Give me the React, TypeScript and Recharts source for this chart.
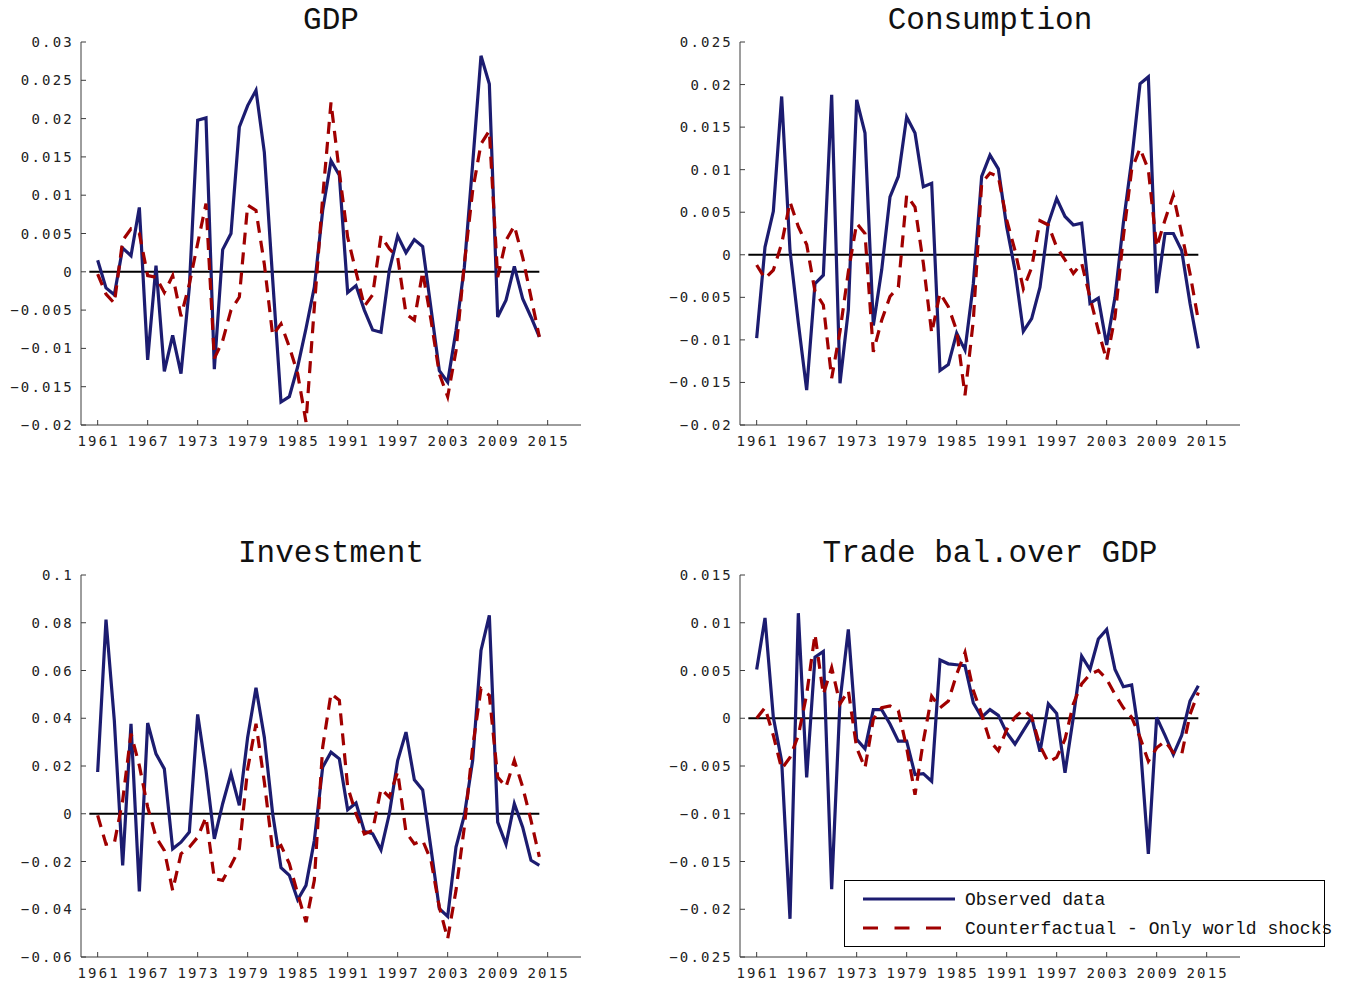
import React from 'react';
import { LineChart, Line, XAxis, YAxis, ReferenceLine, Legend } from 'recharts';

const years = [1961, 1962, 1963, 1964, 1965, 1966, 1967, 1968, 1969, 1970, 1971, 1972, 1973, 1974, 1975, 1976, 1977, 1978, 1979, 1980, 1981, 1982, 1983, 1984, 1985, 1986, 1987, 1988, 1989, 1990, 1991, 1992, 1993, 1994, 1995, 1996, 1997, 1998, 1999, 2000, 2001, 2002, 2003, 2004, 2005, 2006, 2007, 2008, 2009, 2010, 2011, 2012, 2013, 2014];

const yearTicks = [1961, 1967, 1973, 1979, 1985, 1991, 1997, 2003, 2009, 2015];

const gdpObserved = [0.0015, -0.0021, -0.003, 0.0031, 0.0021, 0.0084, -0.0115, 0.0008, -0.013, -0.0083, -0.0133, -0.002, 0.0198, 0.0201, -0.0127, 0.0029, 0.005, 0.0189, 0.0217, 0.0237, 0.0156, -0.001, -0.017, -0.0163, -0.0124, -0.0074, -0.002, 0.008, 0.0145, 0.0126, -0.0027, -0.0018, -0.005, -0.0076, -0.0079, 0.0002, 0.0047, 0.0025, 0.0042, 0.0033, -0.0048, -0.0129, -0.0144, -0.0077, 0.0006, 0.0141, 0.0282, 0.0245, -0.0059, -0.0037, 0.0007, -0.0035, -0.0059, -0.0085];
const gdpCounterfactual = [-0.0003, -0.0029, -0.0041, 0.0041, 0.0056, 0.005, -0.0005, -0.0007, -0.0027, -0.0005, -0.0058, -0.0016, 0.0037, 0.0089, -0.0113, -0.009, -0.005, -0.0033, 0.0087, 0.008, 0.001, -0.0083, -0.0068, -0.0098, -0.0133, -0.0196, -0.0046, 0.0097, 0.0221, 0.013, 0.0045, 0.0, -0.0045, -0.003, 0.0047, 0.003, 0.0019, -0.0055, -0.0063, 0.0, -0.0063, -0.0133, -0.0163, -0.0103, 0.001, 0.0106, 0.0167, 0.0184, -0.0007, 0.0041, 0.006, 0.0019, -0.0033, -0.0085];
const gdpTicks = [-0.02, -0.015, -0.01, -0.005, 0, 0.005, 0.01, 0.015, 0.02, 0.025, 0.03];

const consObserved = [-0.0098, 0.0009, 0.0051, 0.0186, 0.0005, -0.008, -0.0159, -0.0034, -0.0024, 0.0188, -0.0151, -0.0065, 0.0182, 0.0143, -0.0083, -0.0018, 0.0068, 0.0092, 0.0162, 0.0143, 0.008, 0.0084, -0.0136, -0.0129, -0.0092, -0.0112, -0.0034, 0.0092, 0.0117, 0.0101, 0.0033, -0.0018, -0.009, -0.0075, -0.0038, 0.0037, 0.0066, 0.0045, 0.0035, 0.0037, -0.0057, -0.0051, -0.0106, -0.005, 0.0037, 0.0111, 0.0201, 0.0209, -0.0045, 0.0025, 0.0025, 0.0005, -0.0057, -0.011];
const consCounterfactual = [-0.0012, -0.0028, -0.0018, 0.0013, 0.0062, 0.0033, 0.0012, -0.0043, -0.0059, -0.0145, -0.009, -0.002, 0.0037, 0.0025, -0.0114, -0.0077, -0.0049, -0.0038, 0.007, 0.0056, -0.001, -0.0092, -0.0045, -0.0061, -0.0089, -0.0165, -0.0077, 0.0084, 0.0096, 0.0092, 0.0041, 0.0005, -0.004, -0.0015, 0.004, 0.0035, 0.0009, -0.0006, -0.0022, -0.001, -0.005, -0.0089, -0.0124, -0.0073, 0.0021, 0.01, 0.0125, 0.01, 0.0009, 0.0041, 0.007, 0.0025, -0.0022, -0.0077];
const consTicks = [-0.02, -0.015, -0.01, -0.005, 0, 0.005, 0.01, 0.015, 0.02, 0.025];

const invObserved = [0.0175, 0.0813, 0.039, -0.0216, 0.0377, -0.0325, 0.038, 0.0251, 0.0188, -0.0147, -0.0119, -0.0077, 0.0416, 0.0181, -0.0105, 0.0042, 0.0168, 0.0035, 0.0321, 0.0528, 0.0321, 0.0, -0.0226, -0.0258, -0.036, -0.03, -0.0112, 0.0195, 0.0258, 0.023, 0.0017, 0.0045, -0.0073, -0.0084, -0.0151, 0.0, 0.0223, 0.0342, 0.0142, 0.01, -0.0147, -0.0398, -0.043, -0.014, -0.0007, 0.0223, 0.0684, 0.0831, -0.0035, -0.0128, 0.0042, -0.0056, -0.0195, -0.0216];
const invCounterfactual = [-0.0007, -0.0128, -0.0123, 0.0056, 0.0335, 0.0202, 0.0028, -0.0098, -0.0154, -0.0321, -0.0168, -0.014, -0.0098, -0.0014, -0.0272, -0.0279, -0.0216, -0.0147, 0.0188, 0.0377, 0.0133, -0.0154, -0.0133, -0.0209, -0.0335, -0.0454, -0.0279, 0.0279, 0.0503, 0.0475, 0.0112, 0.0, -0.0084, -0.007, 0.0105, 0.007, 0.0175, -0.0077, -0.0126, -0.0112, -0.0195, -0.0391, -0.0524, -0.0321, -0.0056, 0.0279, 0.0524, 0.0496, 0.0154, 0.0112, 0.0223, 0.0112, -0.0028, -0.0181];
const invTicks = [-0.06, -0.04, -0.02, 0, 0.02, 0.04, 0.06, 0.08, 0.1];

const tradeObserved = [0.0051, 0.0105, 0.0001, -0.0045, -0.021, 0.011, -0.0062, 0.0064, 0.007, -0.0179, 0.0018, 0.0093, -0.0022, -0.0032, 0.0009, 0.0009, -0.0006, -0.0024, -0.0024, -0.0059, -0.0058, -0.0066, 0.0061, 0.0057, 0.0056, 0.0055, 0.0016, 0.0001, 0.0009, 0.0003, -0.0015, -0.0027, -0.0013, 0.0001, -0.0035, 0.0015, 0.0005, -0.0057, 0.0001, 0.0065, 0.0051, 0.0083, 0.0093, 0.0051, 0.0033, 0.0035, -0.0024, -0.0142, 0.0001, -0.0018, -0.0038, -0.0018, 0.0018, 0.0034];
const tradeCounterfactual = [0.0, 0.0011, -0.0018, -0.0053, -0.0041, -0.0018, 0.0025, 0.0088, 0.0025, 0.0053, 0.0015, 0.0029, -0.0031, -0.0052, -0.0001, 0.0011, 0.0013, 0.0008, -0.0031, -0.008, -0.0024, 0.0023, 0.0011, 0.0018, 0.0046, 0.0069, 0.0029, 0.0004, -0.0024, -0.0034, -0.0012, 0.0001, 0.0009, 0.0001, -0.0029, -0.0046, -0.0041, -0.0022, 0.0015, 0.0036, 0.0046, 0.005, 0.0041, 0.0025, 0.0011, 0.0001, -0.002, -0.0045, -0.0031, -0.0024, -0.0036, -0.0038, 0.0004, 0.0027];
const tradeTicks = [-0.025, -0.02, -0.015, -0.01, -0.005, 0, 0.005, 0.01, 0.015];

const seriesNames = ['Observed data', 'Counterfactual - Only world shocks'];

const BLUE = '#1c1c70';
const RED = '#a00000';
const AXIS = '#3c3c3c';
const TICK_FONT = "'DejaVu Sans Mono', monospace";
const TITLE_FONT = "'Liberation Mono', 'Courier New', monospace";

function fmt(v: number): string {
  const s = String(Number(v.toFixed(4)));
  return s === '-0' ? '0' : s.replace('-', '\u2212');
}

const YTick = (props: any) => {
  const { x, y, payload } = props;
  return (
    <g>
      <line x1={x} x2={x + 5} y1={y} y2={y} stroke={AXIS} strokeWidth={1} />
      <text x={x - 7} y={y + 5} textAnchor="end" fontFamily={TICK_FONT} fontSize={14} letterSpacing={2.2} fill="#222">
        {fmt(payload.value)}
      </text>
    </g>
  );
};

const XTick = (props: any) => {
  const { x, y, payload } = props;
  return (
    <g>
      <line x1={x} x2={x} y1={y} y2={y - 5} stroke={AXIS} strokeWidth={1} />
      <text x={x + 1} y={y + 21} textAnchor="middle" fontFamily={TICK_FONT} fontSize={14} letterSpacing={2.2} fill="#222">
        {payload.value}
      </text>
    </g>
  );
};

const renderLegend = (props: any) => {
  const { payload } = props;
  const list: any[] = payload || [];
  const items = seriesNames
    .map((nm) => list.find((e: any) => e.value === nm))
    .filter((e: any) => !!e);
  return (
    <div style={{ width: 481, height: 67, border: '1.5px solid #000', background: '#fff', boxSizing: 'border-box', position: 'relative' }}>
      <svg width={481} height={67} style={{ position: 'absolute', left: -1.5, top: -1.5, overflow: 'visible' }}>
        {items.map((e: any, i: number) => {
          const y = 19 + i * 29;
          const dashed = e.value === seriesNames[1];
          return (
            <g key={i}>
              <line x1={19} x2={dashed ? 97 : 111} y1={y} y2={y} stroke={e.color} strokeWidth={3} strokeDasharray={dashed ? '15 16.5' : undefined} />
              <text x={121} y={y + 6} fontFamily={TITLE_FONT} fontSize={18} fill="#111">{e.value}</text>
            </g>
          );
        })}
      </svg>
    </div>
  );
};

type PanelProps = {
  title: string;
  obs: number[];
  cf: number[];
  ticks: number[];
  px: number;
  py: number;
  pw: number;
  ph: number;
  legend?: boolean;
};

const Panel = ({ title, obs, cf, ticks, px, py, pw, ph, legend }: PanelProps) => {
  const data = years.map((yr, i) => ({ year: yr, obs: obs[i], cf: cf[i] }));
  const rightMargin = legend ? 100 : 20;
  const left = px - 82;
  const top = py - 42;
  const width = 82 + pw + rightMargin;
  const height = 42 + ph + 35;
  return (
    <>
      <div
        style={{
          position: 'absolute',
          left: px,
          width: pw,
          top: py - 36,
          textAlign: 'center',
          fontFamily: TITLE_FONT,
          fontSize: 31,
          lineHeight: '30px',
          color: '#111',
          whiteSpace: 'nowrap',
        }}
      >
        {title}
      </div>
      <div style={{ position: 'absolute', left, top }}>
        <LineChart width={width} height={height} data={data} margin={{ top: 42, right: rightMargin, bottom: 0, left: 0 }}>
          <XAxis
            dataKey="year"
            type="number"
            domain={[1959, 2019]}
            ticks={yearTicks}
            interval={0}
            tickSize={0}
            tickMargin={0}
            tickLine={false}
            height={35}
            axisLine={{ stroke: AXIS, strokeWidth: 1 }}
            tick={<XTick />}
          />
          <YAxis
            type="number"
            domain={[ticks[0], ticks[ticks.length - 1]]}
            ticks={ticks}
            interval={0}
            width={82}
            tickSize={0}
            tickMargin={0}
            tickLine={false}
            allowDataOverflow
            axisLine={{ stroke: AXIS, strokeWidth: 1 }}
            tick={<YTick />}
          />
          <ReferenceLine segment={[{ x: 1960, y: 0 }, { x: 2014, y: 0 }]} stroke="#000" strokeWidth={2} />
          <Line type="linear" dataKey="obs" name={seriesNames[0]} stroke={BLUE} strokeWidth={3.2} dot={false} isAnimationActive={false} />
          <Line type="linear" dataKey="cf" name={seriesNames[1]} stroke={RED} strokeWidth={3.2} strokeDasharray="12 8" dot={false} isAnimationActive={false} />
          {legend ? (
            <Legend
              layout="horizontal"
              verticalAlign="middle"
              align="center"
              content={renderLegend}
              wrapperStyle={{ position: 'absolute', left: 844 - left, top: 880 - top, width: 481, height: 67 }}
            />
          ) : null}
        </LineChart>
      </div>
    </>
  );
};

export default function App() {
  return (
    <div style={{ position: 'absolute', left: 0, top: 0, width: 1349, height: 987, background: '#fff' }}>
      <Panel title="GDP" obs={gdpObserved} cf={gdpCounterfactual} ticks={gdpTicks} px={81} py={42} pw={500} ph={383} />
      <Panel title="Consumption" obs={consObserved} cf={consCounterfactual} ticks={consTicks} px={740} py={42} pw={500} ph={383} />
      <Panel title="Investment" obs={invObserved} cf={invCounterfactual} ticks={invTicks} px={81} py={575} pw={500} ph={382} />
      <Panel title="Trade bal.over GDP" obs={tradeObserved} cf={tradeCounterfactual} ticks={tradeTicks} px={740} py={575} pw={500} ph={382} legend />
    </div>
  );
}
